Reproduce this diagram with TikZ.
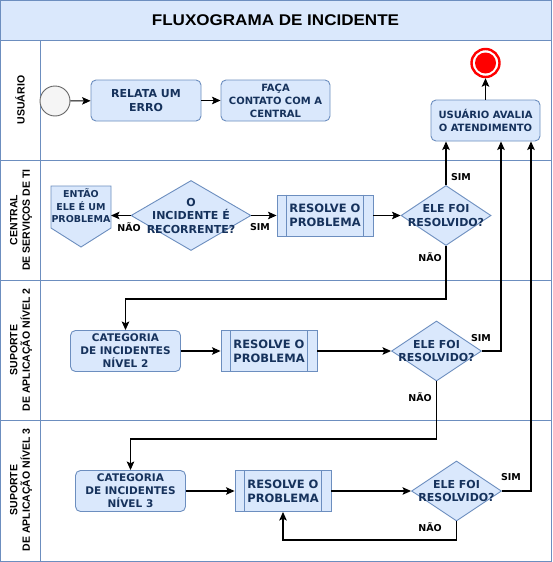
\documentclass[tikz,border=0pt]{standalone}
\usepackage{fontspec}
\setmainfont{DejaVu Sans}
\newfontfamily\arialf{Liberation Sans}
\newfontfamily\titlef[FakeStretch=1.1]{Liberation Sans}
\usetikzlibrary{shapes.geometric,arrows.meta,calc}
\definecolor{bfill}{HTML}{DAE8FC}
\definecolor{bline}{HTML}{6C8EBF}
\definecolor{ntext}{RGB}{22,50,92}
\definecolor{sfill}{HTML}{F5F5F5}
\definecolor{sline}{HTML}{666666}
\tikzset{
  rbox/.style={draw=bline,fill=bfill,rounded corners=5pt,line width=0.9pt,minimum width=110,minimum height=41,inner sep=0,align=center,font=\bfseries\fontsize{10.5}{13}\selectfont,text=ntext},
  pbox/.style={draw=bline,fill=bfill,line width=0.9pt,minimum width=96,minimum height=41,inner sep=0,align=center,font=\bfseries\fontsize{11.5}{14}\selectfont,text=ntext,
    append after command={\pgfextra{\let\mynode\tikzlastnode}
      (\mynode.north west) ++(10,0) edge[draw=bline,line width=0.9pt] ($(\mynode.south west)+(10,0)$)
      (\mynode.north east) ++(-10,0) edge[draw=bline,line width=0.9pt] ($(\mynode.south east)+(-10,0)$)}},
  dia/.style={draw=bline,fill=bfill,diamond,line width=0.9pt,minimum width=90,minimum height=60,inner sep=0},
  dtext/.style={align=center,font=\bfseries\fontsize{11}{13.5}\selectfont,text=ntext},
  lab/.style={font=\bfseries\fontsize{9.5}{11}\selectfont,text=black},
  lane/.style={rotate=90,align=center,font=\arialf\bfseries\fontsize{10.5}{12.5}\selectfont},
  arr/.style={-{Stealth[length=8.5pt,width=7.5pt,inset=1.8pt]},line width=1.1pt,black},
}
\begin{document}
\begin{tikzpicture}[x=1pt,y=-1pt]
\useasboundingbox (0,0) rectangle (552,562);
% frame
\fill[white] (0,0) rectangle (552,562);
\draw[bline,fill=bfill,line width=1pt] (0.5,0.5) rectangle (551.5,40);
\node[font=\titlef\bfseries\fontsize{15.5}{18}\selectfont] (title) at (275.5,20) {FLUXOGRAMA DE INCIDENTE};
\draw[bline,line width=1pt] (0.5,40) rectangle (551.5,561.5);
\draw[bline,line width=1pt] (40,40) -- (40,561.5);
\draw[bline,line width=1pt] (0.5,160) -- (551.5,160);
\draw[bline,line width=1pt] (0.5,280) -- (551.5,280);
\draw[bline,line width=1pt] (0.5,420) -- (551.5,420);
% lane labels
\node[lane] (l1) at (20,100) {USUÁRIO};
\node[lane] (l2) at (21,220) {CENTRAL\\DE SERVIÇOS DE TI};
\node[lane] (l3) at (21,350) {SUPORTE\\DE APLICAÇÃO NÍVEL 2};
\node[lane] (l4) at (21,490) {SUPORTE\\DE APLICAÇÃO NÍVEL 3};
% lane 1
\node[circle,draw=sline,fill=sfill,line width=0.9pt,minimum size=30,inner sep=0] (start) at (55,101) {};
\node[rbox,font=\bfseries\fontsize{11}{13.5}\selectfont] (relata) at (146,100.5) {RELATA UM\\ERRO};
\node[rbox,minimum width=109,font=\bfseries\fontsize{10}{13}\selectfont] (faca) at (275.5,100.5) {FAÇA\\CONTATO COM A\\CENTRAL};
\node[rbox,minimum width=109,font=\bfseries\fontsize{10}{13}\selectfont] (avalia) at (485.5,120.5) {USUÁRIO AVALIA\\O ATENDIMENTO};
\node[circle,draw=red,fill=white,line width=2.4pt,minimum size=28,inner sep=0] (end) at (485.5,63) {};
\node[circle,fill=red,minimum size=21,inner sep=0] (endin) at (end.center) {};
% lane 2
\draw[bline,fill=bfill,line width=0.9pt] (51,186) -- (111,186) -- (111,228) -- (81,247) -- (51,228) -- cycle;
\node[align=center,font=\bfseries\fontsize{9.5}{12.5}\selectfont,text=ntext] (ent) at (81,206) {ENTÃO\\ELE É UM\\PROBLEMA};
\coordinate (entr) at (111,215.5);
\node[dia,minimum width=120,minimum height=70] (d1) at (191,215.5) {};
\node[dtext] (d1t) at (191,215.5) {O\\INCIDENTE É\\RECORRENTE?};
\node[pbox] (res1) at (325,215.5) {RESOLVE O\\PROBLEMA};
\node[dia] (d2) at (446,215.5) {};
\node[dtext] (d2t) at (446,215.5) {ELE FOI\\RESOLVIDO?};
% lane 3
\node[rbox] (cat2) at (125.5,351) {CATEGORIA\\DE INCIDENTES\\NÍVEL 2};
\node[pbox] (res2) at (269,351) {RESOLVE O\\PROBLEMA};
\node[dia] (d3) at (436.5,351) {};
\node[dtext] (d3t) at (436.5,351) {ELE FOI\\RESOLVIDO?};
% lane 4
\node[rbox] (cat3) at (130.5,491) {CATEGORIA\\DE INCIDENTES\\NÍVEL 3};
\node[pbox] (res3) at (283,491) {RESOLVE O\\PROBLEMA};
\node[dia] (d4) at (456.5,491) {};
\node[dtext] (d4t) at (456.5,491) {ELE FOI\\RESOLVIDO?};
% connectors
\draw[arr] (start) -- (relata);
\draw[arr] (relata) -- (faca);
\draw[arr] (avalia.north) -- (end.south);
\draw[arr] (d1.west) -- (entr);
\draw[arr] (d1.east) -- (res1.west);
\draw[arr] (res1.east) -- (d2.west);
\draw[arr] (d2.north) -- (d2.north |- avalia.south);
\draw[arr] (d2.south) -- (d2.south |- 0,299) -| (cat2.north);
\draw[arr] (cat2.east) -- (res2.west);
\draw[arr] (res2.east) -- (d3.west);
\draw[arr] (d3.east) -| ([xshift=15.5pt]avalia.south);
\draw[arr] (d3.south) -- (d3.south |- 0,439) -| (cat3.north);
\draw[arr] (cat3.east) -- (res3.west);
\draw[arr] (res3.east) -- (d4.west);
\draw[arr] (d4.east) -| ([xshift=45.5pt]avalia.south);
\draw[arr] (d4.south) -- (d4.south |- 0,540) -| (res3.south);
% labels
\node[lab] (n1) at (129,227) {NÃO};
\node[lab] (s1) at (260,227) {SIM};
\node[lab] (s2) at (461,177) {SIM};
\node[lab] (n2) at (430,257) {NÃO};
\node[lab] (s3) at (481,338) {SIM};
\node[lab] (n3) at (420,397) {NÃO};
\node[lab] (s4) at (511,477) {SIM};
\node[lab] (n4) at (430,527) {NÃO};
\end{tikzpicture}
\end{document}
